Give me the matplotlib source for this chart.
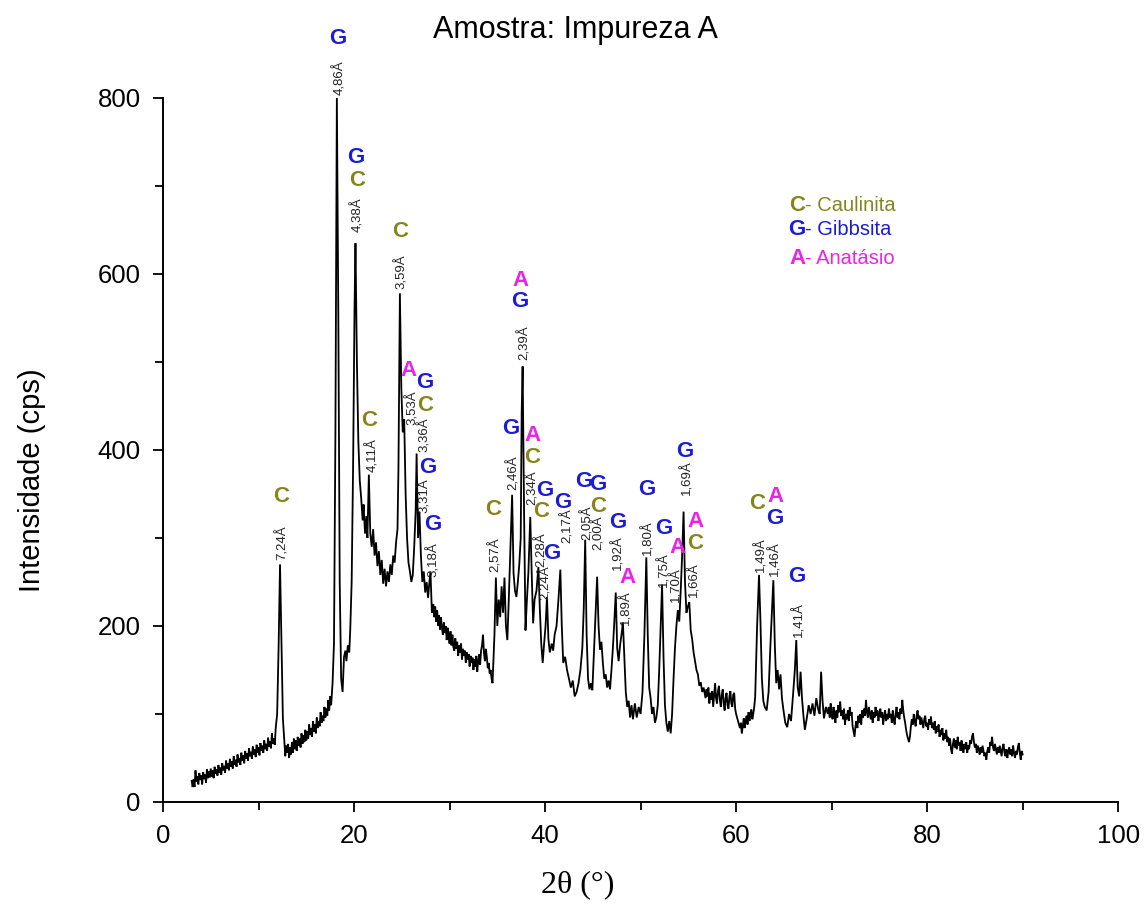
import matplotlib
matplotlib.use("Agg")
import matplotlib.pyplot as plt
from matplotlib.ticker import MultipleLocator

# ---- diffractogram, 2theta (deg) vs intensity (cps), split by angular region ----
seg_low = [
    (3.0, 24), (3.1, 17), (3.2, 26), (3.3, 17), (3.4, 36), (3.5, 23), (3.6, 29), (3.7, 20),
    (3.8, 33), (3.9, 25), (4.0, 30), (4.1, 20), (4.2, 34), (4.3, 26), (4.4, 31), (4.5, 22),
    (4.6, 37), (4.7, 27), (4.8, 35), (4.9, 28), (5.0, 38), (5.1, 29), (5.2, 36), (5.3, 27),
    (5.4, 40), (5.5, 32), (5.6, 37), (5.7, 30), (5.8, 42), (5.9, 33), (6.0, 39), (6.1, 31),
    (6.2, 44), (6.3, 36), (6.4, 41), (6.5, 33), (6.6, 47), (6.7, 38), (6.8, 44), (6.9, 36),
    (7.0, 49), (7.1, 40), (7.2, 46), (7.3, 38), (7.4, 52), (7.5, 42), (7.6, 48), (7.7, 40),
    (7.8, 54), (7.9, 45), (8.0, 50), (8.1, 42), (8.2, 56), (8.3, 47), (8.4, 53), (8.5, 44),
    (8.6, 58), (8.7, 49), (8.8, 55), (8.9, 47), (9.0, 61), (9.1, 52), (9.2, 57), (9.3, 49),
    (9.4, 63), (9.5, 54), (9.6, 60), (9.7, 51), (9.8, 65), (9.9, 56), (10.0, 62), (10.1, 53),
    (10.2, 67), (10.3, 58), (10.4, 64), (10.5, 56), (10.6, 70), (10.7, 60), (10.8, 66),
    (10.9, 58), (11.0, 73), (11.1, 63), (11.2, 69), (11.3, 61), (11.4, 78), (11.5, 66),
    (11.6, 72), (11.7, 65), (11.8, 84),
]
seg_kaol001 = [
    (11.95, 100), (12.1, 175), (12.25, 270), (12.4, 180), (12.55, 95), (12.7, 68), (12.8, 52),
    (12.9, 64), (13.0, 56), (13.1, 66), (13.2, 50), (13.3, 62), (13.4, 54), (13.5, 68),
    (13.6, 56), (13.7, 72), (13.8, 60), (13.9, 70), (14.0, 58), (14.1, 74), (14.2, 64),
    (14.3, 72), (14.4, 62), (14.5, 78), (14.6, 66), (14.7, 76), (14.8, 68), (14.9, 82),
    (15.0, 70), (15.1, 80), (15.2, 72), (15.3, 88), (15.4, 76), (15.5, 84), (15.6, 74),
    (15.7, 92), (15.8, 80), (15.9, 88), (16.0, 78), (16.1, 96), (16.2, 84), (16.3, 92),
    (16.4, 86), (16.5, 102), (16.6, 90), (16.7, 98), (16.8, 92), (16.9, 108), (17.0, 96),
    (17.1, 106), (17.2, 98), (17.3, 116), (17.4, 104), (17.5, 120), (17.6, 110), (17.75, 135),
]
seg_main = [
    (17.9, 180), (18.05, 420), (18.2, 800), (18.35, 560), (18.5, 250), (18.65, 140), (18.8, 125),
    (18.95, 165), (19.1, 172), (19.2, 160), (19.35, 178), (19.5, 170), (19.6, 195), (19.75, 250),
    (19.9, 380), (20.05, 560), (20.15, 635), (20.3, 500), (20.45, 410), (20.6, 365), (20.75, 345),
    (20.9, 320), (21.0, 338), (21.15, 305), (21.3, 325), (21.4, 300), (21.55, 372), (21.7, 305),
    (21.85, 290), (22.0, 310), (22.15, 280), (22.3, 295), (22.45, 268), (22.6, 285), (22.75, 258),
    (22.9, 275), (23.05, 248), (23.2, 265), (23.35, 245), (23.5, 262), (23.65, 250), (23.8, 270),
    (23.95, 258), (24.1, 280), (24.25, 272), (24.4, 295), (24.55, 310), (24.65, 380), (24.8, 578),
]
seg_mid = [
    (24.95, 470), (25.1, 420), (25.25, 435), (25.4, 350), (25.55, 300), (25.7, 272), (25.85, 262),
    (26.0, 250), (26.15, 258), (26.3, 290), (26.45, 330), (26.55, 396), (26.7, 300), (26.85, 330),
    (27.0, 280), (27.15, 250), (27.3, 262), (27.45, 238), (27.6, 250), (27.75, 232), (27.85, 245),
    (28.0, 262), (28.15, 215), (28.3, 225), (28.4, 210), (28.5, 222), (28.6, 205), (28.7, 218),
    (28.8, 200), (28.9, 212), (29.0, 196), (29.1, 210), (29.2, 198), (29.3, 190), (29.4, 204),
    (29.5, 192), (29.6, 200), (29.7, 184), (29.8, 198), (29.9, 188), (30.0, 180), (30.1, 194),
    (30.2, 178), (30.3, 190), (30.4, 176), (30.5, 172), (30.6, 186), (30.7, 174), (30.8, 182),
    (30.9, 166), (31.0, 178), (31.1, 170), (31.2, 180), (31.3, 162), (31.4, 174), (31.5, 166),
    (31.6, 172), (31.7, 158), (31.8, 170), (31.9, 162), (32.0, 168), (32.1, 154), (32.2, 166),
    (32.3, 158), (32.4, 164), (32.5, 150), (32.6, 162), (32.7, 154), (32.8, 166), (32.9, 148),
    (33.0, 160), (33.1, 168), (33.2, 156), (33.3, 172), (33.4, 178), (33.5, 190), (33.6, 170),
    (33.7, 160), (33.8, 174), (33.9, 165), (34.0, 152), (34.1, 158), (34.2, 146), (34.3, 150),
    (34.4, 140), (34.5, 135),
]
seg_cluster = [
    (34.7, 190), (34.85, 255), (35.0, 200), (35.15, 230), (35.3, 210), (35.45, 245), (35.6, 215),
    (35.75, 255), (35.9, 200), (36.05, 184), (36.2, 230), (36.35, 280), (36.55, 349), (36.7, 260),
    (36.85, 240), (37.0, 233), (37.15, 250), (37.3, 270), (37.45, 300), (37.55, 442), (37.65, 495),
    (37.8, 330), (37.95, 195), (38.1, 230), (38.25, 260), (38.45, 324), (38.6, 260), (38.75, 203),
    (38.9, 230), (39.1, 240), (39.3, 267), (39.45, 220), (39.6, 180), (39.75, 158), (39.9, 180),
    (40.05, 200), (40.2, 233), (40.35, 185), (40.5, 170), (40.7, 180), (40.85, 172), (41.0, 190),
    (41.2, 200), (41.4, 230), (41.6, 264), (41.75, 200), (41.9, 158), (42.1, 165), (42.3, 150),
    (42.5, 140), (42.7, 130), (42.9, 138), (43.1, 120), (43.3, 125),
]
seg_high = [
    (43.5, 135), (43.7, 150), (43.9, 175), (44.05, 220), (44.2, 298), (44.35, 190), (44.5, 140),
    (44.65, 128), (44.8, 135), (44.95, 127), (45.1, 165), (45.3, 215), (45.45, 256), (45.6, 200),
    (45.75, 173), (45.9, 182), (46.05, 158), (46.2, 140), (46.35, 145), (46.5, 130), (46.65, 138),
    (46.8, 128), (46.95, 150), (47.1, 175), (47.25, 205), (47.4, 238), (47.55, 175), (47.7, 160),
    (47.85, 178), (48.0, 190), (48.15, 204), (48.3, 165), (48.45, 125), (48.6, 108), (48.75, 115),
    (48.9, 96), (49.05, 110), (49.2, 94), (49.4, 112), (49.6, 96), (49.8, 108), (50.0, 100),
    (50.2, 125), (50.4, 190), (50.6, 278), (50.75, 190), (50.9, 130), (51.05, 118), (51.2, 100),
    (51.35, 108), (51.5, 90), (51.65, 96), (51.8, 110), (51.95, 150), (52.1, 200), (52.25, 247),
    (52.4, 165), (52.55, 110), (52.7, 90), (52.85, 80), (53.0, 92), (53.15, 78), (53.3, 100),
    (53.45, 140), (53.6, 175), (53.75, 200), (53.9, 218), (54.05, 205), (54.2, 240), (54.35, 280),
    (54.5, 330), (54.65, 250), (54.8, 215), (54.95, 222), (55.1, 227), (55.25, 195), (55.4, 185),
    (55.55, 170), (55.7, 160), (55.85, 150), (56.0, 145), (56.15, 132), (56.3, 136), (56.45, 125),
    (56.6, 130),
]
seg_upper = [
    (56.8, 118), (56.9, 128), (57.0, 120), (57.1, 130), (57.2, 112), (57.3, 124), (57.4, 116),
    (57.5, 126), (57.6, 108), (57.7, 122), (57.8, 135), (57.9, 118), (58.0, 112), (58.1, 126),
    (58.2, 132), (58.3, 116), (58.4, 108), (58.5, 122), (58.6, 128), (58.7, 112), (58.8, 104),
    (58.9, 118), (59.0, 124), (59.1, 110), (59.2, 106), (59.3, 120), (59.4, 126), (59.5, 112),
    (59.6, 108), (59.7, 122), (59.8, 124), (59.9, 106), (60.0, 100), (60.1, 96), (60.2, 92),
    (60.3, 88), (60.4, 84), (60.5, 90), (60.6, 78), (60.7, 86), (60.8, 95), (60.9, 84),
    (61.0, 92), (61.1, 98), (61.2, 88), (61.3, 102), (61.4, 92), (61.5, 100), (61.6, 105),
    (61.7, 94), (61.8, 100), (61.9, 108), (62.0, 120), (62.2, 200),
    (62.4, 258), (62.55, 205), (62.7, 140), (62.85, 115), (63.0, 108), (63.2, 104), (63.4, 125),
    (63.6, 180), (63.9, 252), (64.05, 180), (64.2, 135), (64.35, 150), (64.5, 128), (64.65, 145),
    (64.8, 118), (64.95, 105), (65.15, 90), (65.35, 85), (65.55, 100), (65.75, 92), (65.95, 120),
    (66.15, 150), (66.3, 184), (66.45, 130), (66.6, 120), (66.75, 148), (66.9, 118), (67.05, 98),
    (67.2, 82), (67.4, 95), (67.6, 110), (67.8, 100), (68.0, 112), (68.2, 98), (68.4, 118),
    (68.6, 105), (68.75, 100), (68.9, 148), (69.05, 115), (69.2, 95), (69.4, 108),
]
seg_tail = [
    (69.6, 100), (69.7, 108), (69.8, 96), (69.9, 112), (70.0, 100), (70.1, 94), (70.2, 108),
    (70.3, 98), (70.4, 90), (70.5, 104), (70.6, 96), (70.7, 110), (70.8, 102), (70.9, 114),
    (71.0, 98), (71.1, 104), (71.2, 94), (71.3, 106), (71.4, 88), (71.5, 100), (71.6, 94),
    (71.7, 104), (71.8, 92), (71.9, 108), (72.0, 98), (72.1, 102), (72.2, 86), (72.3, 80),
    (72.4, 74), (72.5, 86), (72.6, 92), (72.7, 84), (72.8, 98), (72.9, 90), (73.0, 100),
    (73.1, 88), (73.2, 104), (73.3, 96), (73.4, 106), (73.5, 98), (73.6, 116), (73.7, 102),
    (73.8, 96), (73.9, 108), (74.0, 100), (74.1, 94), (74.2, 104), (74.3, 90), (74.4, 102),
    (74.5, 96), (74.6, 108), (74.7, 98), (74.8, 104), (74.9, 92), (75.0, 100), (75.1, 106),
    (75.2, 96), (75.3, 102), (75.4, 88), (75.5, 98), (75.6, 104), (75.7, 92), (75.8, 100),
    (75.9, 94), (76.0, 106), (76.1, 96), (76.2, 100), (76.3, 90), (76.4, 104), (76.5, 94),
    (76.6, 88), (76.7, 100), (76.8, 108), (76.9, 96), (77.0, 102), (77.1, 94), (77.2, 106),
    (77.3, 100), (77.4, 116), (77.5, 104), (77.6, 96), (77.7, 90), (77.8, 82), (77.9, 76),
    (78.0, 72), (78.1, 68), (78.2, 74), (78.3, 86), (78.4, 94), (78.5, 88), (78.6, 100),
    (78.7, 92), (78.8, 86), (78.9, 98), (79.0, 104), (79.1, 94), (79.2, 98), (79.3, 88),
    (79.4, 96), (79.5, 90), (79.6, 84), (79.7, 94), (79.8, 98), (79.9, 86), (80.0, 90),
    (80.1, 82), (80.2, 94), (80.3, 88), (80.4, 97), (80.5, 84), (80.6, 90), (80.7, 82),
    (80.8, 92), (80.9, 78), (81.0, 86), (81.1, 80), (81.2, 88), (81.3, 74), (81.4, 82),
    (81.5, 76), (81.6, 84), (81.7, 70), (81.8, 78), (81.9, 72), (82.0, 82), (82.1, 68),
    (82.2, 74), (82.3, 64), (82.4, 72), (82.5, 60), (82.6, 55), (82.7, 66), (82.8, 72),
    (82.9, 62), (83.0, 70), (83.1, 60), (83.2, 74), (83.3, 64), (83.4, 68), (83.5, 58),
    (83.6, 70), (83.7, 62), (83.8, 56), (83.9, 66), (84.0, 60), (84.1, 68), (84.2, 56),
    (84.3, 64), (84.4, 60), (84.5, 70), (84.6, 66), (84.7, 74), (84.8, 78), (84.9, 68),
    (85.0, 62), (85.1, 66), (85.2, 56), (85.3, 64), (85.4, 60), (85.5, 54), (85.6, 62),
    (85.7, 56), (85.8, 64), (85.9, 58), (86.0, 52), (86.1, 56), (86.2, 48), (86.3, 58),
    (86.4, 62), (86.5, 56), (86.6, 68), (86.7, 64), (86.8, 74), (86.9, 62), (87.0, 58),
    (87.1, 66), (87.2, 60), (87.3, 54), (87.4, 62), (87.5, 56), (87.6, 64), (87.7, 58),
    (87.8, 52), (87.9, 62), (88.0, 66), (88.1, 56), (88.2, 52), (88.3, 60), (88.4, 50),
    (88.5, 58), (88.6, 62), (88.7, 54), (88.8, 60), (88.9, 52), (89.0, 64), (89.1, 56),
    (89.2, 50), (89.3, 58), (89.4, 54), (89.5, 62), (89.6, 67), (89.7, 56), (89.8, 48),
    (89.9, 58), (90.0, 54),
]

# ---- peak identification: d-spacing labels and the phases assigned to each ----
d_labels = ["7,24Å", "4,86Å", "4,38Å", "4,11Å", "3,59Å", "3,53Å", "3,36Å", "3,31Å", "3,18Å",
            "2,57Å", "2,46Å", "2,39Å", "2,34Å", "2,28Å", "2,24Å", "2,17Å", "2,05Å", "2,00Å",
            "1,92Å", "1,89Å", "1,80Å", "1,75Å", "1,70Å", "1,69Å", "1,66Å", "1,49Å", "1,46Å",
            "1,41Å"]
phases = ["C", "G", "CG", "C", "C", "A", "CG", "G", "G",
          "C", "G", "GA", "CA", "CG", "G", "G", "G", "CG",
          "G", "A", "G", "G", "A", "G", "CA", "C", "GA",
          "G"]
legend_keys = ["C", "G", "A"]
legend_names = ["- Caulinita", "- Gibbsita", "- Anatásio"]

# label placement (x, y of the lower end of each rotated d-spacing label)
d_label_xy = [(12.46, 275), (18.43, 803), (20.31, 648), (21.88, 375), (24.92, 583), (26.07, 428),
              (27.33, 398), (27.33, 328), (28.27, 256), (34.76, 261), (36.65, 354), (37.80, 502),
              (38.64, 337), (39.58, 267), (40.0, 229), (42.30, 294), (44.40, 298), (45.55, 286),
              (47.64, 264), (48.48, 201), (50.79, 281), (52.46, 244), (53.72, 227), (54.87, 349),
              (55.60, 233), (62.62, 261), (64.08, 257), (66.60, 187)]
# centre of each phase letter, in the same order as the letters in `phases`
letter_xy = [[(12.36, 347)], [(18.32, 868)], [(20.31, 706), (20.21, 732)], [(21.57, 434)],
             [(24.82, 648)], [(25.65, 490)], [(27.43, 451), (27.43, 477)], [(27.75, 380)],
             [(28.27, 315)], [(34.55, 332)], [(36.44, 424)], [(37.38, 569), (37.38, 593)],
             [(38.64, 392), (38.64, 417)], [(39.58, 330), (39.95, 354)], [(40.75, 282)],
             [(41.88, 340)], [(44.08, 364)], [(45.55, 336), (45.55, 361)], [(47.64, 318)],
             [(48.59, 255)], [(50.68, 355)], [(52.46, 311)], [(53.82, 289)], [(54.66, 398)],
             [(55.71, 294), (55.71, 319)], [(62.20, 339)], [(64.08, 322), (64.08, 347)],
             [(66.39, 256)]]

phase_colors = {"C": "#85851c", "G": "#1c1cd2", "A": "#ea22ea"}

plt.rcParams["font.family"] = ["Liberation Sans", "DejaVu Sans"]

fig = plt.figure(figsize=(11.48, 9.13), dpi=100)
ax = fig.add_axes([0.142, 0.1216, 0.832, 0.7711])

pattern = seg_low + seg_kaol001 + seg_main + seg_mid + seg_cluster + seg_high + seg_upper + seg_tail
two_theta = [p[0] for p in pattern]
intensity = [p[1] for p in pattern]
ax.plot(two_theta, intensity, color="black", lw=1.3, clip_on=False, solid_joinstyle="miter")

ax.set_xlim(0, 100)
ax.set_ylim(0, 800)
for side in ("top", "right"):
    ax.spines[side].set_visible(False)
for side in ("left", "bottom"):
    ax.spines[side].set_linewidth(1.4)
ax.xaxis.set_major_locator(MultipleLocator(20))
ax.xaxis.set_minor_locator(MultipleLocator(10))
ax.yaxis.set_major_locator(MultipleLocator(200))
ax.yaxis.set_minor_locator(MultipleLocator(100))
ax.tick_params(which="both", direction="out", width=1.3, colors="black")
ax.tick_params(which="major", length=7, labelsize=18.5, pad=9)
ax.tick_params(which="minor", length=6)

# peak annotations
for lab, (lx, ly), letters, pos in zip(d_labels, d_label_xy, phases, letter_xy):
    ax.text(lx, ly, lab, rotation=90, ha="center", va="bottom", fontsize=9.5,
            color="#222222")
    for ch, (px, py) in zip(letters, pos):
        ax.text(px, py, ch, ha="center", va="center", fontsize=16, fontweight="bold",
                color=phase_colors[ch])

# phase key
key_y = [678, 650, 618]
for ch, name, ky in zip(legend_keys, legend_names, key_y):
    ax.text(66.4, ky, ch, ha="center", va="center", fontsize=16, fontweight="bold",
            color=phase_colors[ch])
    ax.text(67.2, ky, name, ha="left", va="center", fontsize=14.5,
            color=phase_colors[ch])

fig.text(575 / 1148, 1 - 30 / 913, "Amostra: Impureza A", ha="center", va="center",
         fontsize=22)
fig.text(32 / 1148, 1 - 480 / 913, "Intensidade (cps)", rotation=90, ha="center",
         va="center", fontsize=21)
fig.text(578 / 1148, 1 - 885 / 913, "2θ (°)", ha="center", va="center", fontsize=23,
         family=["Liberation Serif", "DejaVu Serif"])

fig.savefig("out.png", dpi=100, facecolor="white")
